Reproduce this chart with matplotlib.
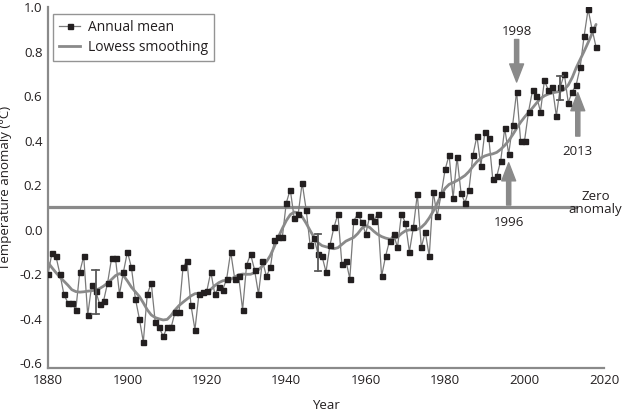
import numpy as np
import matplotlib
matplotlib.use("Agg")
import matplotlib.pyplot as plt
from matplotlib.ticker import FormatStrFormatter
from matplotlib.lines import Line2D

years = np.arange(1880, 2019)
annual = [
    # 1880-1899
    -0.20, -0.105, -0.12, -0.20, -0.29, -0.33, -0.33, -0.36, -0.19, -0.12,
    -0.385, -0.25, -0.275, -0.335, -0.32, -0.24, -0.13, -0.13, -0.29, -0.19,
    # 1900-1919
    -0.10, -0.17, -0.31, -0.40, -0.505, -0.29, -0.24, -0.415, -0.44, -0.48,
    -0.44, -0.44, -0.37, -0.37, -0.17, -0.14, -0.34, -0.45, -0.29, -0.28,
    # 1920-1939
    -0.275, -0.19, -0.29, -0.26, -0.27, -0.22, -0.10, -0.22, -0.21, -0.36,
    -0.16, -0.11, -0.18, -0.29, -0.14, -0.21, -0.17, -0.045, -0.035, -0.035,
    # 1940-1959
    0.12, 0.18, 0.05, 0.07, 0.21, 0.09, -0.07, -0.04, -0.11, -0.12,
    -0.19, -0.07, 0.01, 0.07, -0.155, -0.14, -0.22, 0.04, 0.07, 0.035,
    # 1960-1979
    -0.02, 0.06, 0.04, 0.07, -0.21, -0.12, -0.05, -0.02, -0.08, 0.07,
    0.03, -0.10, 0.01, 0.16, -0.08, -0.01, -0.12, 0.17, 0.06, 0.16,
    # 1980-1999
    0.27, 0.335, 0.14, 0.325, 0.165, 0.12, 0.18, 0.335, 0.42, 0.285,
    0.44, 0.41, 0.225, 0.24, 0.31, 0.455, 0.34, 0.47, 0.62, 0.40,
    # 2000-2018
    0.40, 0.53, 0.625, 0.60, 0.53, 0.67, 0.625, 0.64, 0.51, 0.64,
    0.70, 0.57, 0.62, 0.65, 0.73, 0.87, 0.99, 0.90, 0.82,
]
annual = np.array(annual)

# uncertainty bars
err_years = [1892, 1948, 2009]
err_low = [-0.38, -0.185, 0.58]
err_high = [-0.18, -0.02, 0.69]

zero_level = 0.10
zero_end = 2013
xticks = [1880, 1900, 1920, 1940, 1960, 1980, 2000, 2020]
yticks = [-0.6, -0.4, -0.2, 0.0, 0.2, 0.4, 0.6, 0.8, 1.0]


def lowess(x, y, frac=0.1, iters=2):
    x = np.asarray(x, float) - np.mean(x)
    y = np.asarray(y, float)
    n = len(x)
    r = int(np.ceil(frac * n))
    h = np.array([np.sort(np.abs(x - x[i]))[r] for i in range(n)])
    w = np.clip(np.abs((x[:, None] - x[None, :]) / h[None, :]), 0, 1)
    w = (1 - w ** 3) ** 3
    delta = np.ones(n)
    yest = np.zeros(n)
    for _ in range(iters):
        for i in range(n):
            wt = delta * w[:, i]
            A = np.array([[wt.sum(), (wt * x).sum()], [(wt * x).sum(), (wt * x * x).sum()]])
            b = np.array([(wt * y).sum(), (wt * y * x).sum()])
            beta = np.linalg.solve(A, b)
            yest[i] = beta[0] + beta[1] * x[i]
        res = y - yest
        s = np.median(np.abs(res))
        d = np.clip(res / (6 * s), -1, 1)
        delta = (1 - d ** 2) ** 2
    return yest


smooth = lowess(years, annual, frac=0.08)

FONT = ["Open Sans", "DejaVu Sans"]
plt.rcParams["font.family"] = FONT
TXT = "#231f20"
GRAY = "#8a8a8a"
FS = 9.5

fig = plt.figure(figsize=(6.24, 4.11), dpi=100)
ax = fig.add_axes([48 / 624, 1 - 368 / 411, (604 - 48) / 624, (368 - 7) / 411])

ax.axhline(zero_level, xmin=0, xmax=(zero_end - 1880) / 140, color=GRAY, lw=2.3, zorder=1)

ax.plot(years, annual, color="#7a7a7a", lw=0.9, zorder=2)
ax.plot(years, smooth, color=GRAY, lw=2.0, zorder=3, solid_capstyle="round")
ax.plot(years, annual, ls="none", marker="s", ms=3.6, color=TXT, zorder=4)
for yr, lo, hi in zip(err_years, err_low, err_high):
    ax.plot([yr, yr], [lo, hi], color="#5a5a5a", lw=1.3, zorder=5)
    ax.plot([yr - 0.8, yr + 0.8], [lo, lo], color="#5a5a5a", lw=1.3, zorder=5)
    ax.plot([yr - 0.8, yr + 0.8], [hi, hi], color="#5a5a5a", lw=1.3, zorder=5)

handles = [
    Line2D([], [], color="#7a7a7a", lw=0.9, marker="s", ms=3.6, mfc=TXT, mec=TXT),
    Line2D([], [], color=GRAY, lw=2.0),
]
leg = ax.legend(handles, ["Annual mean", "Lowess smoothing"], loc="upper left",
                bbox_to_anchor=(0.009, 0.981), borderaxespad=0, fontsize=FS + 0.5,
                frameon=True, fancybox=False, handlelength=1.5, handletextpad=0.55,
                borderpad=0.45, labelspacing=0.35)
leg.get_frame().set_edgecolor("#7a7a7a")
leg.get_frame().set_linewidth(1.0)
for t in leg.get_texts():
    t.set_color(TXT)

arrow = dict(arrowstyle="simple,head_length=1.3,head_width=1.0,tail_width=0.3",
             color=GRAY, shrinkA=0, shrinkB=0, mutation_scale=10)
ax.annotate("", xy=(1998, 0.663), xytext=(1998, 0.854), arrowprops=arrow)
ax.text(1998, 0.889, "1998", ha="center", va="center", fontsize=FS, color=TXT)
ax.annotate("", xy=(2013.4, 0.615), xytext=(2013.4, 0.42), arrowprops=arrow)
ax.text(2013.4, 0.349, "2013", ha="center", va="center", fontsize=FS, color=TXT)
ax.annotate("", xy=(1996, 0.30), xytext=(1996, 0.11), arrowprops=arrow)
ax.text(1996, 0.03, "1996", ha="center", va="center", fontsize=FS, color=TXT)
ax.text(2017.9, 0.12, "Zero\nanomaly", ha="center", va="center", fontsize=FS,
        color=TXT, linespacing=1.05)

ax.set_xlim(1880, 2020)
ax.set_ylim(-0.622, 1.0)
ax.set_xticks(xticks)
ax.set_yticks(yticks)
ax.yaxis.set_major_formatter(FormatStrFormatter("%.1f"))
ax.tick_params(length=0, labelsize=FS, labelcolor=TXT)
ax.tick_params(axis="x", pad=4)
ax.tick_params(axis="y", pad=4)
for s in ["top", "right"]:
    ax.spines[s].set_visible(False)
for s in ["left", "bottom"]:
    ax.spines[s].set_color("#8a8a8a")
    ax.spines[s].set_linewidth(1.6)
ax.set_xlabel("Year", fontsize=FS, color=TXT, labelpad=9)
ax.set_ylabel("Temperature anomaly (°C)", fontsize=FS, color=TXT)
ax.yaxis.set_label_coords(-0.064, 0.5)

fig.savefig("out.png", dpi=100)
